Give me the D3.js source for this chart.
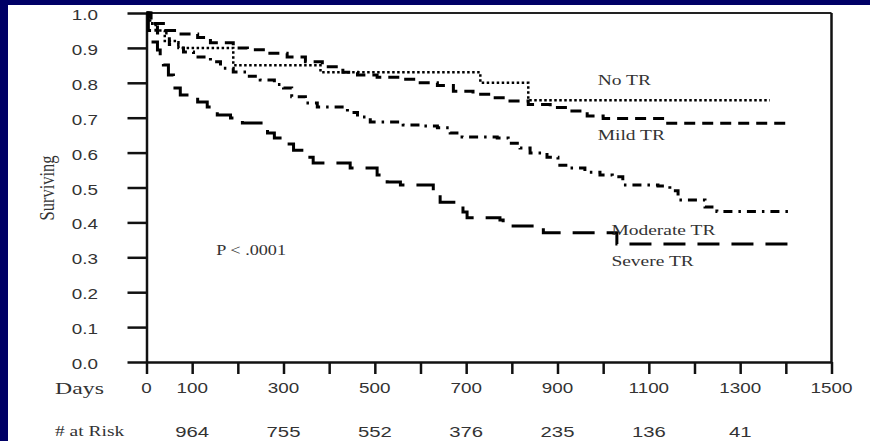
<!DOCTYPE html>
<html><head><meta charset="utf-8">
<script src="https://cdn.jsdelivr.net/npm/d3@7/dist/d3.min.js"></script>
<style>html,body{margin:0;padding:0;background:#fff;}svg{display:block;}</style>
</head><body>
<svg id="chart" width="870" height="441"></svg>
<script>
// ---- data ----
const yTicks = [0,0.1,0.2,0.3,0.4,0.5,0.6,0.7,0.8,0.9,1.0];
const xTicks = [0,100,200,300,400,500,600,700,800,900,1000,1100,1200,1300,1400,1500];
const xTickLabels = [0,100,300,500,700,900,1100,1300,1500];
const riskDays = [100,300,500,700,900,1100,1300];
const riskCounts = [964,755,552,376,235,136,41];
const seriesNames = ["No TR","Mild TR","Moderate TR","Severe TR"];

const noTRDays = [0,8,20,40,70,190,381,731,836,1365];
const noTRSurv = [1.0,0.97,0.95,0.92,0.90,0.85,0.83,0.80,0.75,0.75];

const mildDays = [0,10,37,68,112,140,190,221,265,308,348,385,430,462,505,556,593,637,672,715,757,796,836,884,928,965,1000,1135,1409];
const mildSurv = [1,0.97,0.95,0.94,0.93,0.915,0.90,0.895,0.885,0.874,0.86,0.846,0.83,0.822,0.816,0.81,0.80,0.792,0.776,0.767,0.757,0.748,0.738,0.729,0.719,0.705,0.698,0.684,0.684];

const modDays = [0,8,24,50,81,103,140,162,190,221,249,280,300,318,348,374,440,462,490,562,604,637,665,691,768,792,818,840,877,901,923,960,993,1020,1043,1120,1146,1164,1223,1249,1415];
const modSurv = [1,0.97,0.943,0.91,0.888,0.874,0.86,0.842,0.831,0.819,0.808,0.795,0.785,0.76,0.742,0.731,0.715,0.702,0.688,0.679,0.676,0.671,0.656,0.645,0.642,0.627,0.613,0.599,0.587,0.564,0.556,0.544,0.536,0.531,0.507,0.504,0.491,0.464,0.444,0.431,0.431];

const sevDays = [0,4,10,24,30,37,48,59,74,112,133,155,184,210,265,280,300,322,352,365,446,505,527,556,628,643,693,702,774,781,869,1030,1415];
const sevSurv = [1,0.95,0.917,0.894,0.87,0.851,0.822,0.785,0.765,0.745,0.731,0.708,0.699,0.685,0.656,0.642,0.625,0.607,0.587,0.57,0.556,0.536,0.516,0.507,0.487,0.458,0.43,0.413,0.407,0.39,0.37,0.338,0.338];

// ---- drawing ----
const svg = d3.select("#chart");
const navy = "#000066";
const textCol = "#333";
const serif = "'Liberation Serif','Times New Roman',serif";
const sans = "'Liberation Sans',Arial,sans-serif";
const SX = 1.3; // horizontal stretch of the original slide text

svg.append("rect").attr("x",0).attr("y",0).attr("width",870).attr("height",441).attr("fill",navy);
svg.append("rect").attr("x",8).attr("y",5).attr("width",862).attr("height",436).attr("fill","#fff");

const x = d3.scaleLinear().domain([0,1500]).range([146.5,831.5]);
const y = d3.scaleLinear().domain([0,1]).range([362,13]);

function stretchedText(g, str, px, py, opts){
  const t = g.append("text")
    .attr("transform",`translate(${px},${py}) scale(${opts.sx||SX},1)`)
    .attr("font-family",opts.family||sans)
    .attr("font-size",opts.size||14)
    .attr("fill",textCol)
    .attr("text-anchor",opts.anchor||"start")
    .text(str);
  return t;
}

// frame: top and right lines
svg.append("line").attr("x1",x(0)).attr("x2",x(1500)).attr("y1",y(1)).attr("y2",y(1))
  .attr("stroke","#222").attr("stroke-width",2);
svg.append("line").attr("x1",x(1500)).attr("x2",x(1500)).attr("y1",y(1)).attr("y2",y(0))
  .attr("stroke","#111").attr("stroke-width",2.5);

// y axis
const yAxis = svg.append("g").attr("transform",`translate(${x(0)},0)`)
  .call(d3.axisLeft(y).tickValues(yTicks).tickSize(19).tickSizeOuter(0).tickFormat(()=>""));
yAxis.selectAll("path,line").attr("stroke","#111").attr("stroke-width",2.5);
const yl = svg.append("g");
yTicks.forEach(v=>{
  stretchedText(yl, d3.format(".1f")(v), 98, y(v)+7, {anchor:"end", size:14.5});
});

// x axis
const xAxis = svg.append("g").attr("transform",`translate(0,${y(0)})`)
  .call(d3.axisBottom(x).tickValues(xTicks).tickSize(12).tickSizeOuter(0).tickFormat(()=>""));
xAxis.selectAll("path,line").attr("stroke","#111").attr("stroke-width",2.5);
const xl = svg.append("g");
xTickLabels.forEach(v=>{
  stretchedText(xl, String(v), x(v), 393, {anchor:"middle", size:14.5});
});
stretchedText(xl, "Days", 55, 394, {family:serif, size:17, sx:1.4});

// at risk row
const rl = svg.append("g");
stretchedText(rl, "# at Risk", 55, 436, {family:serif, size:15, sx:1.3});
riskDays.forEach((d,i)=>{
  stretchedText(rl, String(riskCounts[i]), x(d), 437, {anchor:"middle", size:14.5, sx:1.4});
});

// y label
svg.append("text")
  .attr("transform",`translate(54,188) rotate(-90) scale(1.1,1.35)`)
  .attr("font-family",serif).attr("font-size",15).attr("fill",textCol)
  .attr("text-anchor","middle").text("Surviving");

// curves
const line = d3.line().x(d=>x(d[0])).y(d=>y(d[1])).curve(d3.curveStepAfter);
const series = [
  {days:noTRDays, surv:noTRSurv, dash:"2.5,2.5", w:2.5},
  {days:mildDays, surv:mildSurv, dash:"11,7", w:3},
  {days:modDays, surv:modSurv, dash:"9,6,2.5,6", w:3},
  {days:sevDays, surv:sevSurv, dash:"22,12", w:3}
];
series.forEach(s=>{
  svg.append("path").datum(s.days.map((d,i)=>[d,s.surv[i]]))
    .attr("d",line).attr("fill","none").attr("stroke","#000")
    .attr("stroke-width",s.w).attr("stroke-dasharray",s.dash);
});

// series labels
const sl = svg.append("g");
stretchedText(sl, seriesNames[0], x(988), y(0.794), {family:serif, size:15});
stretchedText(sl, seriesNames[1], x(988), y(0.636), {family:serif, size:15});
stretchedText(sl, seriesNames[2], x(1018), y(0.364), {family:serif, size:15});
stretchedText(sl, seriesNames[3], x(1018), y(0.275), {family:serif, size:15});
stretchedText(sl, "P < .0001", x(153), y(0.307), {family:serif, size:14});
</script>
</body></html>
